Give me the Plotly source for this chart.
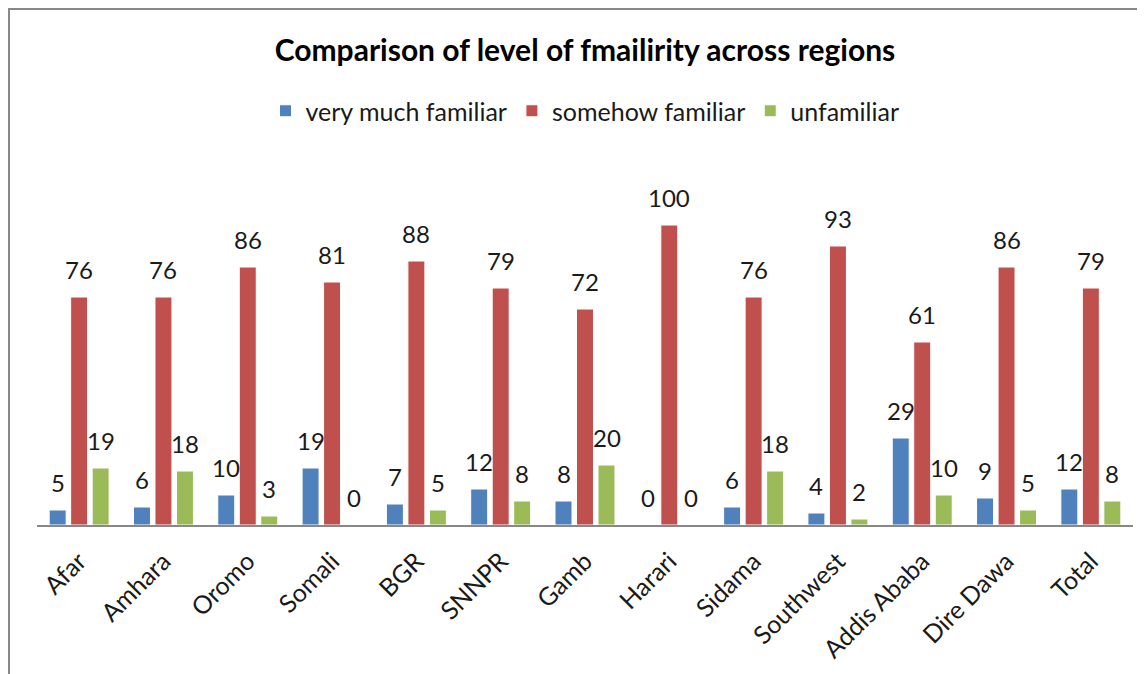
import plotly.graph_objects as go

regions = ["Afar", "Amhara", "Oromo", "Somali", "BGR", "SNNPR", "Gamb", "Harari",
           "Sidama", "Southwest", "Addis Ababa", "Dire Dawa", "Total"]
very_much = [5, 6, 10, 19, 7, 12, 8, 0, 6, 4, 29, 9, 12]
somehow = [76, 76, 86, 81, 88, 79, 72, 100, 76, 93, 61, 86, 79]
unfamiliar = [19, 18, 3, 0, 5, 8, 20, 0, 18, 2, 10, 5, 8]

series = [
    ("very much familiar", very_much, "#4F81BD"),
    ("somehow familiar", somehow, "#C0504D"),
    ("unfamiliar", unfamiliar, "#9BBB59"),
]

FONT = "Lato"
TXT = "#1a1a1a"
fig = go.Figure()
for name, vals, color in series:
    fig.add_trace(go.Bar(
        x=regions, y=vals, name=name,
        marker=dict(color=color, line=dict(color="white", width=1)),
    ))

# data labels above each bar, shifted onto its slot in the group
slot = 21.5
annotations = []
for i, (name, vals, color) in enumerate(series):
    for r, v in zip(regions, vals):
        annotations.append(dict(
            x=r, y=v, xref="x", yref="y", text=str(v), showarrow=False,
            xshift=(i - 1) * slot, yshift=11, yanchor="bottom",
            font=dict(family=FONT, size=24, color=TXT),
        ))

# page body adds an 8px offset, so margins are shifted up/left by 8
fig.update_layout(
    width=1145, height=674,
    margin=dict(l=29, r=20, t=157, b=157, autoexpand=False),
    paper_bgcolor="white", plot_bgcolor="white",
    barmode="group", bargap=0.235, bargroupgap=0.21,
    title=dict(text="<b>Comparison of level of fmailirity across regions</b>",
               xref="paper", x=0.5, xanchor="center", y=1 - 42 / 674, yanchor="middle",
               font=dict(family=FONT, size=30, color="black")),
    legend=dict(orientation="h", x=0.5, xanchor="center", y=1.15, yanchor="middle",
                font=dict(family=FONT, size=25, color=TXT),
                itemwidth=30, traceorder="normal"),
    xaxis=dict(showline=True, linecolor="#888", linewidth=1.5, ticks="",
               tickangle=-45, tickfont=dict(family=FONT, size=25, color=TXT),
               ticklabelstandoff=10, showgrid=False, automargin=False),
    yaxis=dict(range=[0, 120], visible=False, showgrid=False, automargin=False),
    annotations=annotations,
    shapes=[dict(type="rect", xref="paper", yref="paper",
                 x0=(1 - 29) / 1096, x1=(1160 - 29) / 1096,
                 y0=(517 - 690) / 360, y1=(517 - 1) / 360,
                 line=dict(color="#888", width=2), fillcolor="rgba(0,0,0,0)")],
)

fig.write_html("out.html")
